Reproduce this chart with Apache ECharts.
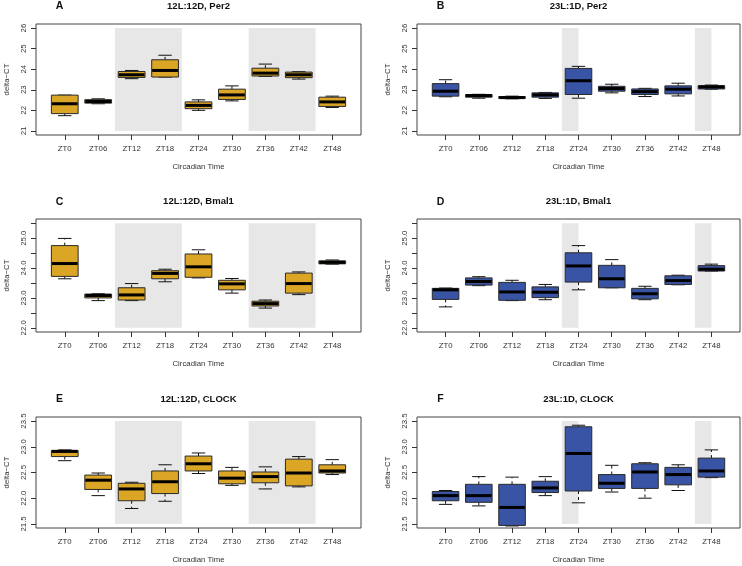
<!DOCTYPE html>
<html>
<head>
<meta charset="utf-8">
<script src="https://cdn.jsdelivr.net/npm/echarts@6/dist/echarts.min.js"></script>
<style>
html,body{margin:0;padding:0;background:#fff;}
#chart{width:742px;height:566px;}
</style>
</head>
<body>
<div id="chart"></div>
<script>
// ---------- data ----------
const categories = ['ZT0','ZT06','ZT12','ZT18','ZT24','ZT30','ZT36','ZT42','ZT48'];
// each entry: [lower whisker, Q1, median, Q3, upper whisker]
const per2_12L12D = [
  [21.74,21.84,22.32,22.74,22.74],
  [22.32,22.35,22.43,22.52,22.56],
  [23.54,23.60,23.73,23.89,23.94],
  [23.62,23.62,23.94,24.46,24.68],
  [22.00,22.08,22.24,22.41,22.51],
  [22.46,22.53,22.75,23.03,23.19],
  [23.65,23.67,23.81,24.05,24.25],
  [23.52,23.59,23.73,23.86,23.88],
  [22.14,22.19,22.41,22.64,22.69]
];
const per2_23L1D = [
  [22.66,22.69,22.93,23.30,23.49],
  [22.59,22.64,22.72,22.77,22.78],
  [22.56,22.58,22.62,22.67,22.69],
  [22.58,22.64,22.75,22.85,22.87],
  [22.59,22.77,23.44,24.04,24.14],
  [22.85,22.93,23.06,23.17,23.27],
  [22.67,22.77,22.91,23.04,23.07],
  [22.70,22.80,23.03,23.19,23.32],
  [23.03,23.04,23.14,23.20,23.23]
];
const bmal1_12L12D = [
  [23.64,23.72,24.15,24.75,24.99],
  [22.91,23.00,23.08,23.13,23.14],
  [22.91,22.93,23.10,23.34,23.48],
  [23.54,23.64,23.82,23.91,23.96],
  [23.67,23.69,24.04,24.47,24.61],
  [23.16,23.27,23.47,23.59,23.65],
  [22.66,22.73,22.81,22.89,22.93],
  [23.11,23.16,23.48,23.83,23.87],
  [24.13,24.14,24.19,24.24,24.27]
];
const bmal1_23L1D = [
  [22.70,22.95,23.27,23.32,23.33],
  [23.41,23.43,23.55,23.67,23.71],
  [22.91,22.92,23.20,23.52,23.59],
  [22.94,23.01,23.19,23.37,23.45],
  [23.27,23.53,24.07,24.51,24.75],
  [23.34,23.34,23.64,24.09,24.28],
  [22.94,22.97,23.14,23.32,23.39],
  [23.44,23.45,23.58,23.74,23.76],
  [23.90,23.90,23.96,24.08,24.13]
];
const clock_12L12D = [
  [22.73,22.81,22.91,22.93,22.94],
  [22.05,22.17,22.35,22.45,22.49],
  [21.80,21.95,22.18,22.29,22.31],
  [21.94,22.09,22.32,22.53,22.65],
  [22.48,22.53,22.67,22.82,22.88],
  [22.25,22.28,22.39,22.53,22.60],
  [22.18,22.30,22.42,22.51,22.61],
  [22.22,22.24,22.49,22.76,22.81],
  [22.46,22.49,22.53,22.65,22.75]
];
const clock_23L1D = [
  [21.88,21.95,22.05,22.13,22.15],
  [21.85,21.92,22.05,22.27,22.42],
  [21.46,21.47,21.82,22.27,22.41],
  [22.05,22.11,22.20,22.33,22.42],
  [21.91,22.14,22.87,23.39,23.42],
  [22.12,22.19,22.29,22.46,22.64],
  [22.00,22.19,22.51,22.67,22.69],
  [22.15,22.26,22.46,22.60,22.65],
  [22.40,22.41,22.53,22.78,22.94]
];
// dark-phase shading (category positions, 1-based)
const shade12L12D = [[2.5,4.5],[6.5,8.5]];
const shade23L1D = [[4.5,5.0],[8.5,9.0]];
// y-axis ticks / labels
const yTicksPer2 = [21,22,23,24,25,26];
const yLabelsPer2 = [21,22,23,24,25,26];
const yTicksBmal1 = [22,22.5,23,23.5,24,24.5,25,25.5];
const yLabelsBmal1 = [22,23,24,25];
const yTicksClock = [21.5,22,22.5,23,23.5];
const yLabelsClock = [21.5,22,22.5,23,23.5];

const panelLetters = ['A','B','C','D','E','F'];
const panelTitles = ['12L:12D, Per2','23L:1D, Per2','12L:12D, Bmal1','23L:1D, Bmal1','12L:12D, CLOCK','23L:1D, CLOCK'];

// ---------- layout ----------
const GOLD = '#dba526', BLUE = '#3a54a5';
const FONT = 'Liberation Sans, Arial, sans-serif';
const panels = [
  {data: per2_12L12D, shade: shade12L12D, ticks: yTicksPer2, labels: yLabelsPer2, dec: 0, color: GOLD, grid:{left:36, top:24, width:325, height:111}, ttop:1},
  {data: per2_23L1D, shade: shade23L1D, ticks: yTicksPer2, labels: yLabelsPer2, dec: 0, color: BLUE, grid:{left:417, top:24, width:323, height:111}, ttop:1},
  {data: bmal1_12L12D, shade: shade12L12D, ticks: yTicksBmal1, labels: yLabelsBmal1, dec: 1, color: GOLD, grid:{left:36, top:219, width:325, height:113}, ttop:196.5},
  {data: bmal1_23L1D, shade: shade23L1D, ticks: yTicksBmal1, labels: yLabelsBmal1, dec: 1, color: BLUE, grid:{left:417, top:219, width:323, height:113}, ttop:196.5},
  {data: clock_12L12D, shade: shade12L12D, ticks: yTicksClock, labels: yLabelsClock, dec: 1, color: GOLD, grid:{left:36, top:417, width:325, height:111}, ttop:394},
  {data: clock_23L1D, shade: shade23L1D, ticks: yTicksClock, labels: yLabelsClock, dec: 1, color: BLUE, grid:{left:417, top:417, width:323, height:111}, ttop:394}
];

const grids = [], xAxes = [], yAxes = [], series = [], titles = [];
const catIdx = categories.map((c,i)=>i+1);

panels.forEach((p, k) => {
  grids.push(Object.assign({show:true, borderColor:'#444', borderWidth:1, backgroundColor:'transparent', containLabel:false}, p.grid));
  const nCat = categories.length;
  const padX = nCat * 0.04;
  xAxes.push({
    type:'value', gridIndex:k, min: 0.5 - padX, max: nCat + 0.5 + padX,
    axisLine:{show:false}, splitLine:{show:false},
    axisTick:{show:true, inside:false, length:5, customValues: catIdx, lineStyle:{color:'#333', width:1}},
    axisLabel:{show:true, margin:10, customValues: catIdx, color:'#333', fontSize:7.8, fontFamily:FONT,
      formatter: v => categories[Math.round(v)-1] || ''},
    name:'Circadian Time', nameLocation:'middle', nameGap:28,
    nameTextStyle:{color:'#333', fontSize:7.8, fontFamily:FONT}
  });
  const lo = p.ticks[0], hi = p.ticks[p.ticks.length-1];
  const padY = (hi - lo) * 0.04;
  yAxes.push({
    type:'value', gridIndex:k, min: lo - padY, max: hi + padY,
    axisLine:{show:false}, splitLine:{show:false},
    axisTick:{show:true, inside:false, length:5, customValues: p.ticks, lineStyle:{color:'#333', width:1}},
    axisLabel:{show:true, rotate:90, margin:8, customValues: p.labels, color:'#333', fontSize:7.8, fontFamily:FONT,
      formatter: v => Number(v).toFixed(p.dec)},
    name:'delta\u2212CT', nameLocation:'middle', nameGap:25,
    nameTextStyle:{color:'#333', fontSize:7.8, fontFamily:FONT}
  });
  // shading
  series.push({
    type:'custom', xAxisIndex:k, yAxisIndex:k, z:1, silent:true,
    data: p.shade.map(s => [s[0], s[1], lo, hi]),
    renderItem: (params, api) => {
      const a = api.coord([api.value(0), api.value(3)]);
      const b = api.coord([api.value(1), api.value(2)]);
      return {type:'rect', shape:{x:a[0], y:a[1], width:b[0]-a[0], height:b[1]-a[1]}, style:{fill:'#e6e7e6'}};
    }
  });
  // boxes
  series.push({
    type:'custom', xAxisIndex:k, yAxisIndex:k, z:2, silent:true,
    encode:{x:0, y:[1,2,3,4,5]},
    data: p.data.map((d,i) => [i+1].concat(d)),
    renderItem: (params, api) => {
      const x = api.value(0);
      const pts = [1,2,3,4,5].map(j => api.coord([x, api.value(j)]));
      const cx = pts[0][0];
      const halfW = api.size([0.8, 0])[0] / 2;
      const capW = api.size([0.4, 0])[0] / 2;
      const yMin = pts[0][1], yQ1 = pts[1][1], yMed = pts[2][1], yQ3 = pts[3][1], yMax = pts[4][1];
      const dash = {stroke:'#111', lineWidth:1, lineDash:[3,3]};
      const solid = {stroke:'#111', lineWidth:1};
      return {type:'group', children:[
        {type:'line', shape:{x1:cx, y1:yQ3, x2:cx, y2:yMax}, style:dash},
        {type:'line', shape:{x1:cx, y1:yQ1, x2:cx, y2:yMin}, style:dash},
        {type:'line', shape:{x1:cx-capW, y1:yMax, x2:cx+capW, y2:yMax}, style:solid},
        {type:'line', shape:{x1:cx-capW, y1:yMin, x2:cx+capW, y2:yMin}, style:solid},
        {type:'rect', shape:{x:cx-halfW, y:yQ3, width:2*halfW, height:yQ1-yQ3}, style:{fill:p.color, stroke:'#2a2a2a', lineWidth:1}},
        {type:'line', shape:{x1:cx-halfW+0.5, y1:yMed, x2:cx+halfW-0.5, y2:yMed}, style:{stroke:'#000', lineWidth:3}}
      ]};
    }
  });
  const g = p.grid;
  titles.push({text: panelTitles[k], left: g.left + g.width/2, top: p.ttop, textAlign:'center', padding:0,
    textStyle:{fontSize:9.5, fontWeight:'bold', color:'#111', fontFamily:FONT}});
  titles.push({text: panelLetters[k], left: g.left + 23.5, top: p.ttop, textAlign:'center', padding:0,
    textStyle:{fontSize:10.5, fontWeight:'bold', color:'#111', fontFamily:FONT}});
});

const chart = echarts.init(document.getElementById('chart'), null, {renderer:'canvas'});
chart.setOption({
  animation:false,
  backgroundColor:'#fff',
  title: titles,
  grid: grids,
  xAxis: xAxes,
  yAxis: yAxes,
  series: series
});
</script>
</body>
</html>
